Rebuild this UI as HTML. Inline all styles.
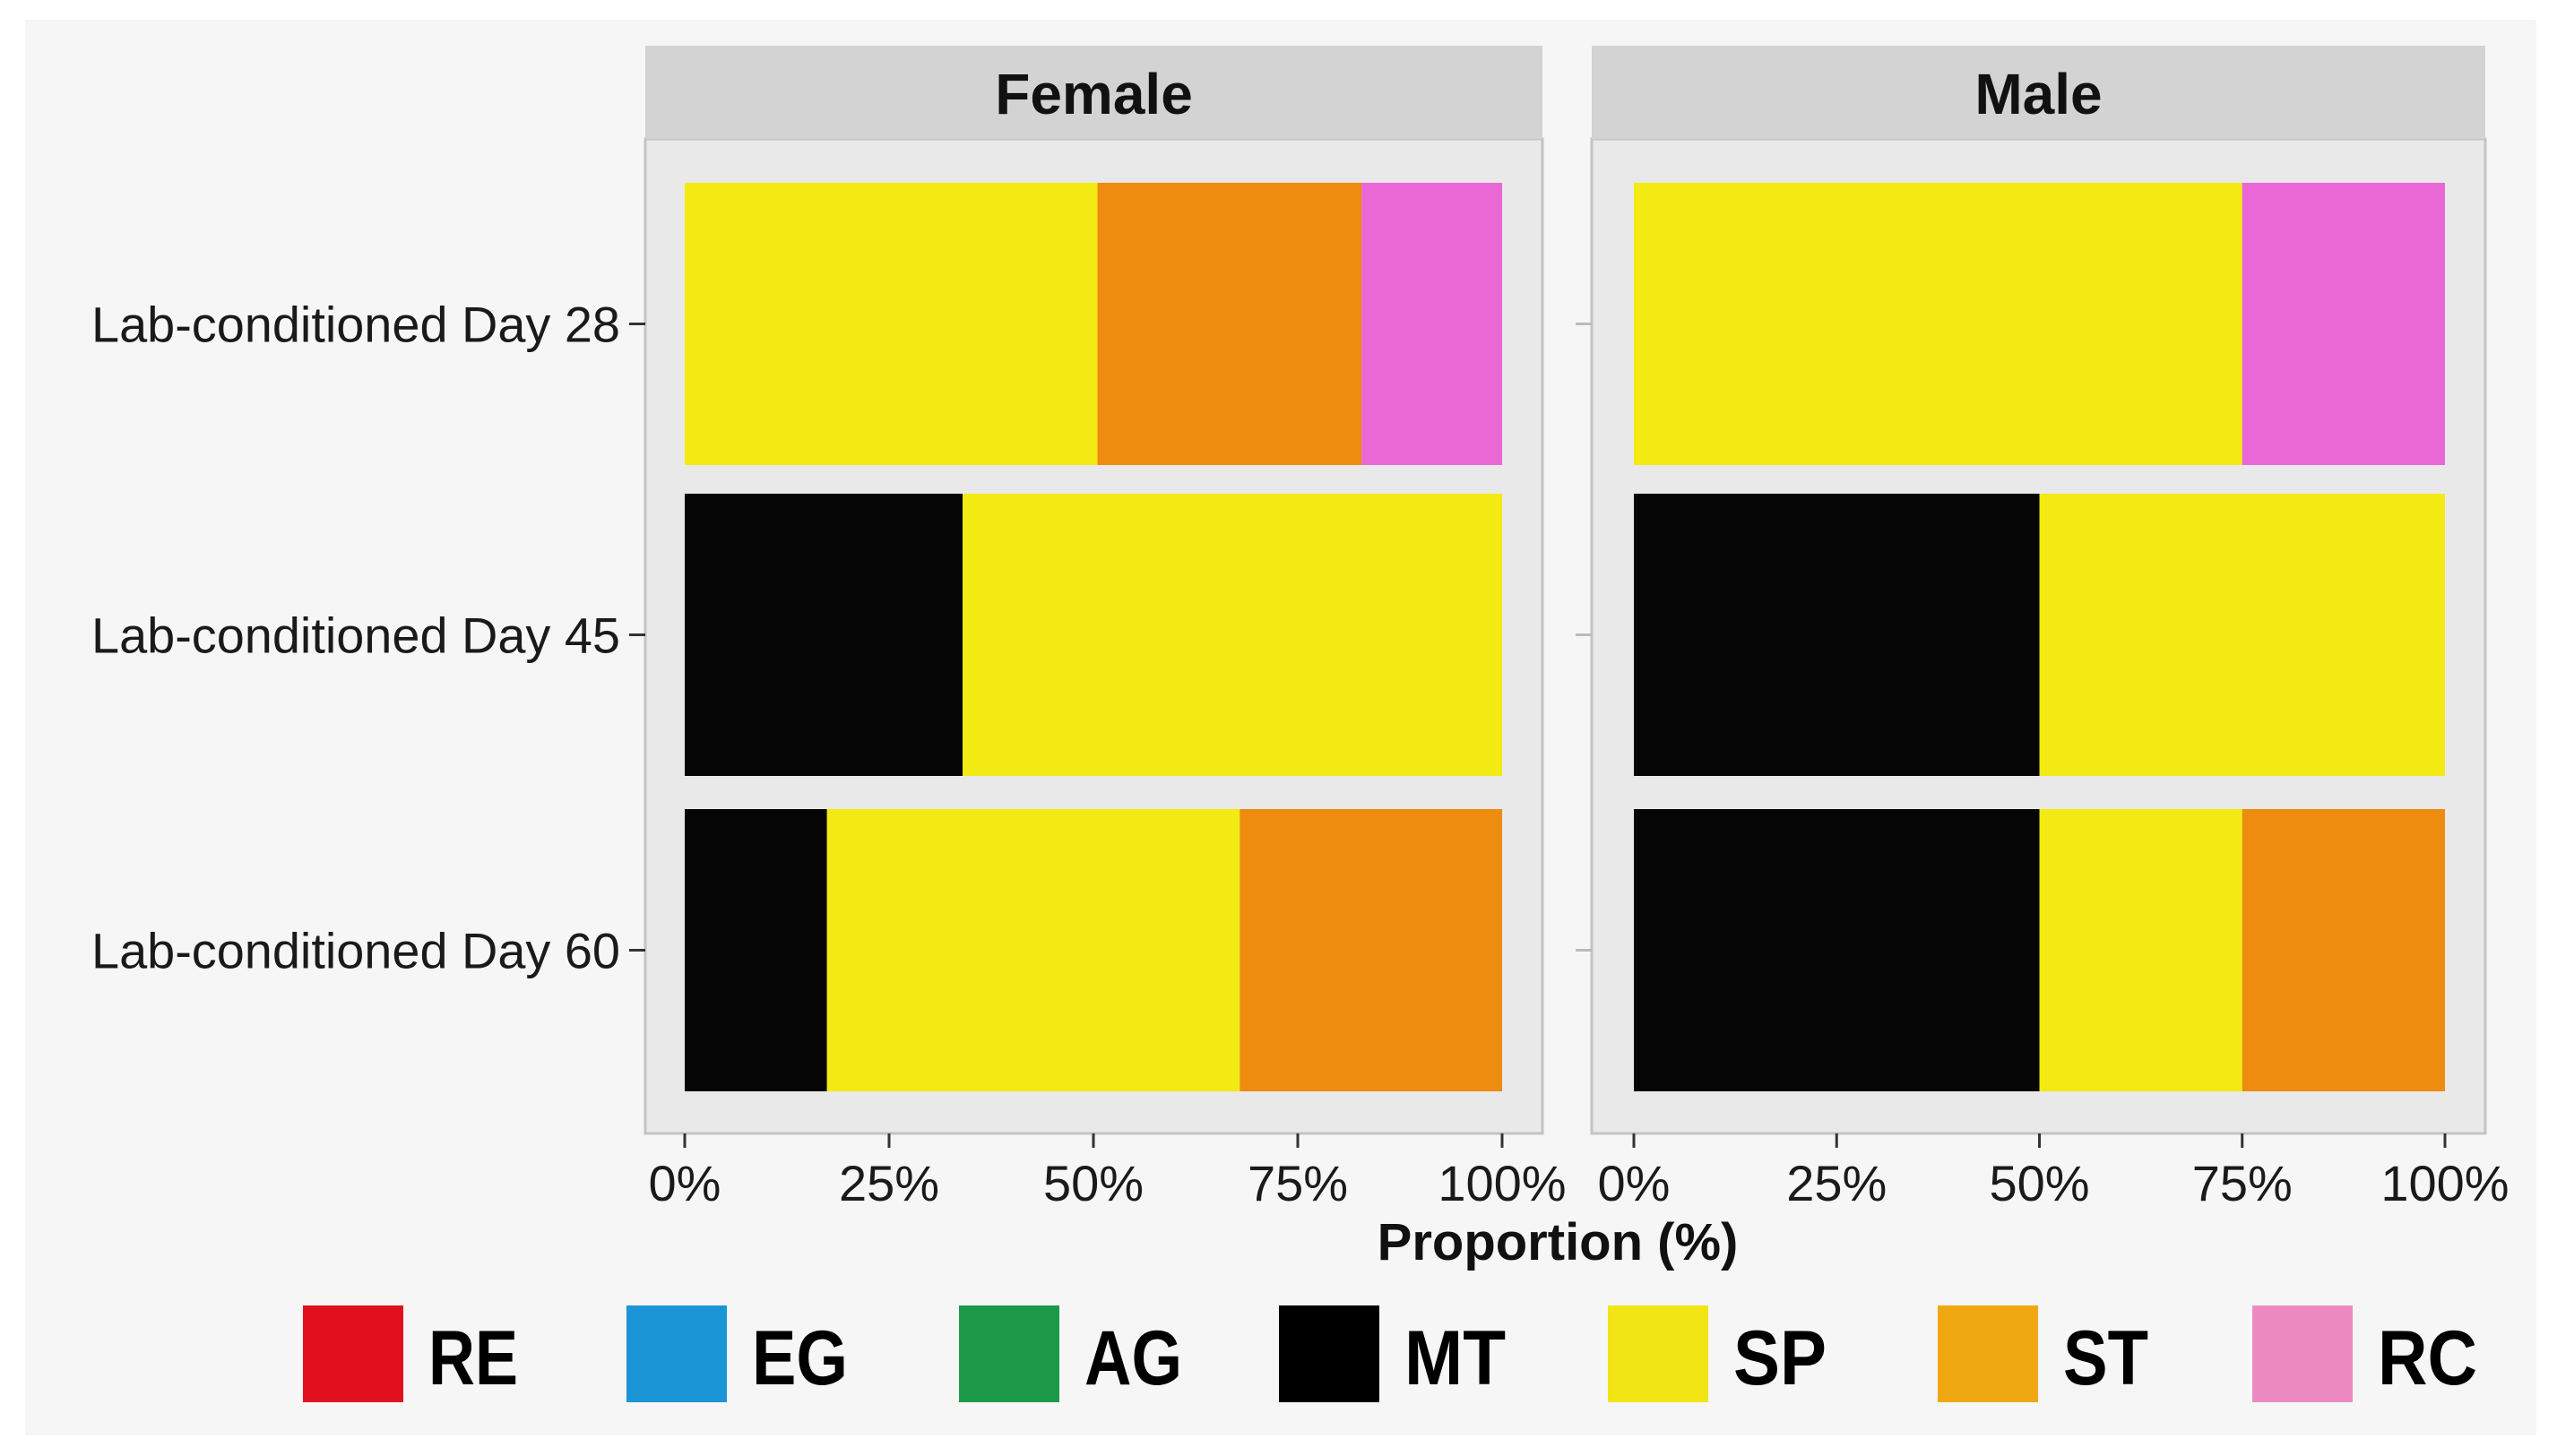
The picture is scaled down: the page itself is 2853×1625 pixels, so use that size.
<!DOCTYPE html>
<html><head><meta charset="utf-8"><style>
html,body{margin:0;padding:0;background:#fff;}
svg{display:block;font-family:"Liberation Sans",Arial,sans-serif;}
</style></head><body>
<svg id="chart" width="2853" height="1625" viewBox="0 0 2853 1625" xmlns="http://www.w3.org/2000/svg">
<rect x="0" y="0" width="2853" height="1625" fill="#ffffff"/>
<rect x="28" y="22" width="2802" height="1580" fill="#f6f6f6"/>
<g id="panels"></g>
<text x="1738" y="1406" font-size="58" font-weight="bold" text-anchor="middle" fill="#111">Proportion (%)</text>
<g id="legend"></g>
</svg>
<script>
const categories = ["Lab-conditioned Day 28", "Lab-conditioned Day 45", "Lab-conditioned Day 60"];
const stages = ["RE", "EG", "AG", "MT", "SP", "ST", "RC"];
const facets = ["Female", "Male"];
// values per stage for each category, Female
const femaleMT = [0, 34, 17.4];
const femaleSP = [50.5, 66, 50.5];
const femaleST = [32.3, 0, 32.1];
const femaleRC = [17.2, 0, 0];
// Male
const maleMT = [0, 50, 50];
const maleSP = [75, 50, 25];
const maleST = [0, 0, 25];
const maleRC = [25, 0, 0];
const tickValues = [0, 25, 50, 75, 100];
const tickLabels = ["0%", "25%", "50%", "75%", "100%"];

const barColors = {MT:"#050505", SP:"#f2ea12", ST:"#ee8c10", RC:"#ea68d6"};
const legendColors = {RE:"#e0101e", EG:"#1b95d6", AG:"#1c9a4a", MT:"#000000", SP:"#f2e516", ST:"#f0a812", RC:"#ee8ac2"};
const NS = "http://www.w3.org/2000/svg";
function mk(tag, attrs, parent){const e=document.createElementNS(NS,tag);for(const k in attrs)e.setAttribute(k,attrs[k]);parent.appendChild(e);return e;}

const panelsG = document.getElementById('panels');
const panelGeom = [{left:720,right:1721,x0:764,x1:1676},{left:1776,right:2773,x0:1823,x1:2728}];
const stripTop=51, stripBottom=155, panelBottom=1265;
const barTops=[204,551,903], barH=315;
function yCenter(i){return barTops[i]+barH/2;}
const data = [{MT:femaleMT,SP:femaleSP,ST:femaleST,RC:femaleRC},{MT:maleMT,SP:maleSP,ST:maleST,RC:maleRC}];

facets.forEach((f,fi)=>{
  const g = panelGeom[fi];
  const xs = v => g.x0 + (g.x1-g.x0)*v/100;
  const pg = mk('g',{},panelsG);
  
  
  const bg = mk('rect',{x:g.left,y:stripBottom,width:g.right-g.left,height:panelBottom-stripBottom,fill:'#e9e9e9',stroke:'#c4c4c4','stroke-width':3},pg);
  
  
  const st = mk('rect',{x:g.left,y:stripTop,width:g.right-g.left,height:stripBottom-stripTop,fill:'#d3d3d3'},pg);
  
  
  const tt = mk('text',{x:(g.left+g.right)/2,y:127,'font-size':64,'font-weight':'bold','text-anchor':'middle',fill:'#111'},pg);
  tt.textContent = f;
  
  
  categories.forEach((c,ci)=>{
    let acc=0;
    ["MT","SP","ST","RC"].forEach(s=>{
      const v=data[fi][s][ci];
      if(v>0){
        const r=mk('rect',{x:xs(acc),y:barTops[ci],width:xs(acc+v)-xs(acc),height:barH,fill:barColors[s]},pg);
        
        
      }
      acc+=v;
    });
    const tk=mk('line',{x1:g.left-18,x2:g.left,y1:yCenter(ci),y2:yCenter(ci),stroke:fi===0?'#333':'#bbb','stroke-width':3},pg);
    
    
    if(fi===0){
      const lb=mk('text',{x:692,y:yCenter(ci)+20,'font-size':56,'text-anchor':'end',fill:'#1a1a1a',textLength:590,lengthAdjust:'spacingAndGlyphs'},pg);
      lb.textContent=c;
      
      
    }
  });
  tickValues.forEach((t,ti)=>{
    const tl=mk('line',{x1:xs(t),x2:xs(t),y1:panelBottom,y2:panelBottom+16,stroke:'#333','stroke-width':3},pg);
    
    
    const tx=mk('text',{x:xs(t),y:1340,'font-size':56,'text-anchor':'middle',fill:'#1a1a1a'},pg);
    tx.textContent=tickLabels[ti];
    
    
  });
});

const legendG=document.getElementById('legend');
const legendX=[338,699,1070,1427,1794,2162,2513];
const legendW=[100,107,109,113,104,95,111];
stages.forEach((s,i)=>{
  const item=mk('g',{},legendG);
  
  
  const sw=mk('rect',{x:legendX[i],y:1457,width:112,height:108,fill:legendColors[s]},item);
  
  
  const t=mk('text',{x:legendX[i]+140,y:1545,'font-size':86,'font-weight':'bold',fill:'#000',textLength:legendW[i],lengthAdjust:'spacingAndGlyphs'},item);
  t.textContent=s;
  
  
});
</script>
</body></html>
